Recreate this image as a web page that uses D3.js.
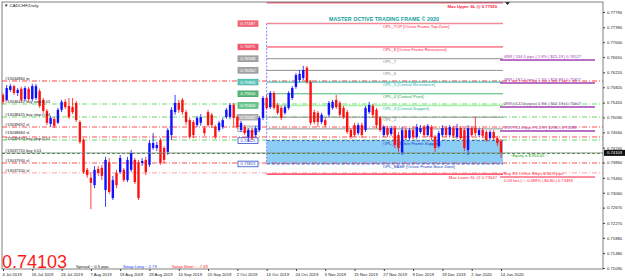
<!DOCTYPE html>
<html><head><meta charset="utf-8">
<script src="https://cdn.jsdelivr.net/npm/d3@7"></script>
<style>
body{margin:0;background:#fff;overflow:hidden}
svg text{font-family:"Liberation Sans",Arial,sans-serif}
</style></head>
<body><svg id="c" width="625" height="280"></svg>
<script>
// ---------- DATA ----------
const symbolTitle = "CADCHF,Daily";
const dates = ["2019-07-04","2019-07-05","2019-07-08","2019-07-09","2019-07-10","2019-07-11","2019-07-12","2019-07-15","2019-07-16","2019-07-17","2019-07-18","2019-07-19","2019-07-22","2019-07-23","2019-07-24","2019-07-25","2019-07-26","2019-07-29","2019-07-30","2019-07-31",
"2019-08-01","2019-08-02","2019-08-05","2019-08-06","2019-08-07","2019-08-08","2019-08-09","2019-08-12","2019-08-13","2019-08-14","2019-08-15","2019-08-16","2019-08-19","2019-08-20","2019-08-21","2019-08-22","2019-08-23","2019-08-26","2019-08-27","2019-08-28","2019-08-29","2019-08-30",
"2019-09-02","2019-09-03","2019-09-04","2019-09-05","2019-09-06","2019-09-09","2019-09-10","2019-09-11","2019-09-12","2019-09-13","2019-09-16","2019-09-17","2019-09-18","2019-09-19","2019-09-20","2019-09-23","2019-09-24","2019-09-25","2019-09-26","2019-09-27","2019-09-30",
"2019-10-01","2019-10-02","2019-10-03","2019-10-04","2019-10-07","2019-10-08","2019-10-09","2019-10-10","2019-10-11","2019-10-14","2019-10-15","2019-10-16","2019-10-17","2019-10-18","2019-10-21","2019-10-22","2019-10-23","2019-10-24","2019-10-25","2019-10-28","2019-10-29","2019-10-30","2019-10-31",
"2019-11-01","2019-11-04","2019-11-05","2019-11-06","2019-11-07","2019-11-08","2019-11-11","2019-11-12","2019-11-13","2019-11-14","2019-11-15","2019-11-18","2019-11-19","2019-11-20","2019-11-21","2019-11-22","2019-11-25","2019-11-26","2019-11-27","2019-11-28","2019-11-29",
"2019-12-02","2019-12-03","2019-12-04","2019-12-05","2019-12-06","2019-12-09","2019-12-10","2019-12-11","2019-12-12","2019-12-13","2019-12-16","2019-12-17","2019-12-18","2019-12-19","2019-12-20","2019-12-23","2019-12-24","2019-12-26","2019-12-27","2019-12-30","2019-12-31",
"2020-01-02","2020-01-03","2020-01-06","2020-01-07","2020-01-08","2020-01-09","2020-01-10","2020-01-13","2020-01-14"];

const open = [.7562,.7549,.7575,.7585,.7567,.7578,.7551,.7578,.7551,.7554,.7572,.7549,.7520,.7486,.7499,.7489,.7523,.7544,.7533,.7530,
.7541,.7491,.7444,.7366,.7345,.7326,.7368,.7371,.7313,.7386,.7292,.7358,.7360,.7366,.7339,.7366,.7392,.7386,.7384,.7392,.7379,.7423,
.7423,.7444,.7423,.7413,.7457,.7517,.7541,.7549,.7517,.7496,.7491,.7483,.7489,.7475,.7517,.7510,.7478,.7470,.7478,.7504,.7504,
.7536,.7504,.7470,.7478,.7452,.7470,.7457,.7470,.7502,.7554,.7530,.7567,.7536,.7528,.7515,.7528,.7554,.7583,.7601,.7606,.7633,.7596,.7517,
.7515,.7491,.7496,.7510,.7528,.7549,.7541,.7528,.7517,.7470,.7483,.7462,.7483,.7470,.7517,.7533,.7523,.7502,.7457,.7475,.7460,
.7475,.7457,.7410,.7470,.7449,.7470,.7452,.7465,.7478,.7457,.7478,.7452,.7428,.7457,.7475,.7457,.7475,.7452,.7475,.7470,.7418,
.7475,.7475,.7457,.7470,.7465,.7449,.7465,.7449,.7441];
const high = [.7567,.7588,.7591,.7588,.7580,.7583,.7585,.7583,.7591,.7591,.7578,.7554,.7525,.7507,.7504,.7528,.7549,.7551,.7554,.7554,
.7546,.7496,.7449,.7371,.7360,.7376,.7376,.7379,.7400,.7397,.7350,.7366,.7405,.7371,.7400,.7418,.7397,.7392,.7397,.7400,.7444,.7462,
.7439,.7449,.7428,.7475,.7530,.7562,.7549,.7554,.7523,.7502,.7496,.7507,.7512,.7481,.7523,.7515,.7483,.7494,.7502,.7528,.7541,
.7541,.7510,.7494,.7483,.7475,.7475,.7481,.7507,.7559,.7562,.7572,.7572,.7541,.7533,.7536,.7572,.7585,.7619,.7627,.7638,.7638,.7601,.7523,
.7520,.7515,.7502,.7546,.7549,.7562,.7546,.7533,.7523,.7475,.7489,.7489,.7489,.7533,.7544,.7538,.7528,.7507,.7483,.7481,.7481,
.7481,.7465,.7478,.7475,.7475,.7478,.7486,.7483,.7483,.7486,.7483,.7457,.7468,.7483,.7481,.7483,.7481,.7486,.7481,.7475,.7483,
.7481,.7504,.7475,.7475,.7470,.7470,.7470,.7455,.7447];
const low = [.7538,.7546,.7570,.7562,.7559,.7544,.7546,.7546,.7546,.7549,.7528,.7515,.7483,.7478,.7475,.7486,.7517,.7525,.7499,.7512,
.7491,.7434,.7355,.7345,.7263,.7318,.7350,.7339,.7269,.7303,.7287,.7318,.7355,.7334,.7334,.7360,.7329,.7287,.7376,.7352,.7373,.7418,
.7415,.7379,.7384,.7405,.7444,.7510,.7515,.7510,.7483,.7447,.7449,.7478,.7481,.7455,.7478,.7475,.7447,.7465,.7473,.7499,.7499,
.7478,.7473,.7465,.7457,.7439,.7444,.7452,.7465,.7496,.7523,.7525,.7523,.7510,.7496,.7510,.7523,.7549,.7578,.7596,.7601,.7591,.7483,.7486,
.7478,.7486,.7478,.7504,.7523,.7525,.7504,.7499,.7460,.7447,.7452,.7457,.7449,.7465,.7512,.7502,.7475,.7465,.7452,.7452,.7455,
.7423,.7413,.7405,.7444,.7444,.7447,.7447,.7460,.7452,.7452,.7444,.7413,.7423,.7452,.7452,.7452,.7449,.7447,.7444,.7415,.7405,
.7452,.7455,.7452,.7449,.7439,.7444,.7444,.7428,.7397];
const close = [.7544,.7580,.7585,.7567,.7575,.7549,.7580,.7551,.7585,.7585,.7533,.7520,.7489,.7502,.7481,.7523,.7544,.7530,.7504,.7517,
.7496,.7439,.7360,.7352,.7332,.7366,.7358,.7350,.7392,.7308,.7339,.7326,.7397,.7339,.7392,.7410,.7334,.7292,.7389,.7360,.7436,.7436,
.7431,.7384,.7392,.7470,.7523,.7541,.7523,.7517,.7491,.7452,.7457,.7502,.7504,.7462,.7483,.7483,.7452,.7489,.7496,.7523,.7536,
.7502,.7478,.7489,.7462,.7470,.7449,.7475,.7502,.7554,.7528,.7567,.7528,.7515,.7502,.7530,.7567,.7580,.7614,.7617,.7627,.7596,.7489,.7491,
.7491,.7510,.7483,.7541,.7544,.7530,.7510,.7504,.7465,.7452,.7457,.7483,.7457,.7528,.7536,.7510,.7483,.7470,.7478,.7457,.7475,
.7431,.7423,.7470,.7449,.7470,.7452,.7478,.7475,.7457,.7481,.7452,.7423,.7462,.7475,.7457,.7478,.7455,.7475,.7449,.7423,.7475,
.7457,.7462,.7470,.7455,.7444,.7465,.7449,.7436,.74103];

const yTickValues = [0.77790,0.77390,0.77000,0.76610,0.76210,0.75820,0.75420,0.75030,0.74640,0.74240,0.73850,0.73450,0.73060,0.72670,0.72270,0.71880,0.71480,0.71090];
const xTickDates = ["2019-07-04","2019-07-16","2019-07-26","2019-08-07","2019-08-19","2019-08-29","2019-09-10","2019-09-20","2019-10-02","2019-10-14","2019-10-24","2019-11-05","2019-11-15","2019-11-27","2019-12-09","2019-12-19","2020-01-02","2020-01-14"];
const xTickLabels = ["4 Jul 2019","16 Jul 2019","26 Jul 2019","7 Aug 2019","19 Aug 2019","29 Aug 2019","10 Sep 2019","20 Sep 2019","2 Oct 2019","14 Oct 2019","24 Oct 2019","5 Nov 2019","15 Nov 2019","27 Nov 2019","9 Dec 2019","19 Dec 2019","2 Jan 2020","14 Jan 2020"];

const bidPrice = 0.74103;
const frameStart = "2019-10-14";
const frameEnd = "2020-01-14";
const frameTitle = "MASTER OCTIVE TRADING FRAME © 2020";
const oplNames = ["OPL_TOP [Octive Frame Top Zone]","OPL_8 [Octive Frame Resistance]","OPL_7","OPL_6","OPL_5 [Central Resistance]","OPL_4 [Central Pivot]","OPL_3 [Central Support]","OPL_2","OPL_1","OPL_0 [Octive Frame Support]","OPL_BASE [Octive Frame Base Zone]"];
const oplValues = [0.77487,0.76875,0.76568,0.76262,0.75956,0.75650,0.75344,0.75037,0.74731,0.74425,0.73813];
const maxUpperSL = 0.78040, maxUpperText = "Max Upper SL @ 0.77920";
const maxLowerSL = 0.73547, maxLowerText = "Max Lower SL @ 0.73547";

const orderLabels = ["#13034860 tp","#13036422 buy stop 0.05","#13038425 buy stop 0.04","#13039692 sl","#13038684 sl","#13039693 buy stop 0.02","#13037720 buy 0.01","#13037930 sl","#13037200 sl"];
const orderPrices = [0.75984,0.75382,0.75042,0.74780,0.74519,0.74440,0.74087,0.73838,0.73577];
const orderKinds  = ["tp","pend","pend","sl","sl","pend","buy","sl","slpale"];

const rrLabels = ["4RR | 244.0 pips | 1.8% | $25.19 | 0.76527","3RR | 182.0 pips | 1.3% | $18.89 | 0.75857","2RR | 122.0 pips | 0.9% | $12.59 | 0.75407","1RR | 61.0 pips | 0.4% | $6.36 | 0.74986"];
const rrPrices = [0.76534,0.75932,0.75304,0.74676];
const buyStepsText = "Buy 3.0 Octive Steps = 84.0 pips";
const lotsText = "0.03 lots | \u2191: 0.489% | $6.80 | 0.73493";
const lotsLinePrice = 0.73472;
const equityText = "~Equity = $ 954.65 ~";
const spreadText = "Spread :: 0.5 pips", swapLongText = "Swap Long :: 2.79", swapShortText = "Swap Short :: -7.69";

// ---------- DRAW ----------
const svg = d3.select("#c");
const L = 2, R = 603, T = 2, B = 269;
const x = d3.scalePoint().domain(dates).range([3, 501]);
const y = d3.scaleLinear().domain([0.71090, 0.77790]).range([268, 12]);

svg.append("rect").attr("width",625).attr("height",280).attr("fill","#ffffff");
svg.append("defs").append("clipPath").attr("id","pc").append("rect")
  .attr("x",L).attr("y",T).attr("width",R-L).attr("height",B-T);
const g = svg.append("g").attr("clip-path","url(#pc)");

const xs = x(frameStart), xe = x(frameEnd) + 2;

// zone between OPL_0 and OPL_BASE
g.append("rect").attr("x",xs).attr("width",xe-xs)
  .attr("y",y(oplValues[9])).attr("height",y(oplValues[10])-y(oplValues[9]))
  .attr("fill","#8ccdf5");

// order lines (full width)
const orderStyle = {tp:["#ff2a2a","5,2,1,2",0.9], pend:["#5ad35a","5,2,1,2",0.9], sl:["#ff3a3a","5,2,1,2",0.9], buy:["#1e8c1e","3,2",0.9], slpale:["#ffb4b4","5,2,1,2",1.2]};
orderPrices.forEach((p,i)=>{
  const s = orderStyle[orderKinds[i]];
  g.append("line").attr("x1",L).attr("x2",R).attr("y1",y(p)).attr("y2",y(p))
    .attr("stroke",s[0]).attr("stroke-width",s[2]).attr("stroke-dasharray",s[1]);
});
g.append("line").attr("x1",L).attr("x2",R).attr("y1",y(orderPrices[1])).attr("y2",y(orderPrices[1]))
  .attr("stroke","#b4f0b4").attr("stroke-width",1.6).attr("stroke-dasharray","5,2,1,2");

// OPL frame lines
const oplStroke = ["#f08a96","#ff3050","#909090","#909090","#20b0a0","#48b870","#a8f0a8","#909090","#909090","#3048c8","#3048c8"];
const oplWidth = [1.5,1,1,1,1,1,1.6,1,1,0.9,0.9];
const oplDash = [null,null,null,null,null,null,null,null,null,"3,2","3,2"];
const oplTextColor = ["#ff2040","#ff2040","#808080","#808080","#20b0b0","#30a050","#20b0a0","#808080","#808080","#2040c0","#2040c0"];
const boxFill = ["#f06878","#f05068","#a8a8a8","#a8a8a8","#60c8b8","#58b878","#70c890","#b8b8b8","#ffffff","#ffffff","#ffffff"];
const boxStroke = ["#f06878","#f05068","#909090","#909090","#40b0a0","#40a060","#40b070","#a0a0a0","#909090","#3048c8","#3048c8"];
const boxText = ["#fff","#fff","#fff","#fff","#fff","#fff","#fff","#fff","#808080","#3048c8","#3048c8"];
oplValues.forEach((v,i)=>{
  const yy = y(v);
  g.append("line").attr("x1",xs).attr("x2",xe).attr("y1",yy).attr("y2",yy)
    .attr("stroke",oplStroke[i]).attr("stroke-width",oplWidth[i]).attr("stroke-dasharray",oplDash[i]);
  g.append("text").attr("x",383).attr("y",yy+4.2).attr("font-size",4.2).attr("fill",oplTextColor[i]).text(oplNames[i]);
  g.append("rect").attr("x",238).attr("y",yy-2.8).attr("width",20).attr("height",5.6)
    .attr("fill",boxFill[i]).attr("stroke",boxStroke[i]).attr("stroke-width",0.8);
  g.append("text").attr("x",248).attr("y",yy+1.5).attr("text-anchor","middle").attr("font-size",4.1)
    .attr("fill",boxText[i]).text(d3.format(".5f")(v));
});
g.append("line").attr("x1",xs).attr("x2",xs).attr("y1",y(oplValues[0])).attr("y2",y(oplValues[10]))
  .attr("stroke","#8080ff").attr("stroke-width",1).attr("stroke-dasharray","2,1.5");

// max SL lines
g.append("line").attr("x1",xs).attr("x2",xe).attr("y1",y(maxUpperSL)).attr("y2",y(maxUpperSL)).attr("stroke","#f07080").attr("stroke-width",2);
g.append("text").attr("x",497).attr("y",y(maxUpperSL)+6).attr("text-anchor","end").attr("font-size",4.2).attr("font-weight","bold").attr("fill","#ff2040").text(maxUpperText);
g.append("line").attr("x1",xs).attr("x2",xe).attr("y1",y(maxLowerSL)).attr("y2",y(maxLowerSL)).attr("stroke","#ff2040").attr("stroke-width",1.4);
g.append("text").attr("x",497).attr("y",y(maxLowerSL)+5).attr("text-anchor","end").attr("font-size",4.2).attr("fill","#ff2040").text(maxLowerText);

// title
g.append("text").attr("x",384).attr("y",21).attr("text-anchor","middle").attr("font-size",5.4).attr("font-weight","bold")
  .attr("fill","#20a0a0").text(frameTitle);

// candles
const bodyW = 2.4;
const cg = g.append("g");
dates.forEach((d,i)=>{
  const up = close[i] >= open[i];
  const col = up ? "#1010ff" : "#ff1010";
  const cx = x(d);
  cg.append("line").attr("x1",cx).attr("x2",cx).attr("y1",y(high[i])).attr("y2",y(low[i])).attr("stroke",col).attr("stroke-width",0.8);
  const y0 = y(Math.max(open[i],close[i])), y1 = y(Math.min(open[i],close[i]));
  cg.append("rect").attr("x",cx-bodyW/2).attr("y",y0).attr("width",bodyW).attr("height",Math.max(0.8,y1-y0)).attr("fill",col);
});

// bid line
g.append("line").attr("x1",L).attr("x2",R).attr("y1",y(bidPrice)).attr("y2",y(bidPrice)).attr("stroke","#8a8a8a").attr("stroke-width",0.8);

// order labels left
const labelShift = [0,0,0,0,-1.6,1.6,0,0,0];
orderPrices.forEach((p,i)=>{
  g.append("text").attr("x",5).attr("y",y(p)-1.2+labelShift[i]).attr("font-size",4).attr("fill","#202020").text(orderLabels[i]);
});

// RR labels right
rrPrices.forEach((p,i)=>{
  g.append("line").attr("x1",500).attr("x2",595).attr("y1",y(p)).attr("y2",y(p)).attr("stroke","#a040b0").attr("stroke-width",1.3);
  g.append("text").attr("x",504).attr("y",y(p)-1.5).attr("font-size",4.1).attr("fill","#a040b0").text(rrLabels[i]);
});
g.append("text").attr("x",510).attr("y",y(bidPrice)+4.5).attr("font-size",4.1).attr("fill","#20a020").text(equityText);
g.append("line").attr("x1",500).attr("x2",595).attr("y1",y(lotsLinePrice)).attr("y2",y(lotsLinePrice)).attr("stroke","#ff2040").attr("stroke-width",1.2);
g.append("text").attr("x",504).attr("y",y(lotsLinePrice)-2).attr("font-size",4.1).attr("fill","#ff2040").text(buyStepsText);
g.append("text").attr("x",504).attr("y",y(lotsLinePrice)+5).attr("font-size",4.1).attr("fill","#ff2040").text(lotsText);

// chart title top-left
svg.append("text").attr("x",4).attr("y",7).attr("font-size",4.4).attr("fill","#202020").text("\u25BC " + symbolTitle);
svg.append("path").attr("d","M505,2 L510,2 L507.5,5 Z").attr("fill","#202020");

// big price and info
svg.append("text").attr("x",2).attr("y",268).attr("font-size",18).attr("fill","#ff1a1a").text(d3.format(".5f")(bidPrice));
svg.append("text").attr("x",76).attr("y",268).attr("font-size",4.2).attr("fill","#202020").text(spreadText);
svg.append("text").attr("x",123).attr("y",268).attr("font-size",4.2).attr("fill","#2040ff").text(swapLongText);
svg.append("text").attr("x",172).attr("y",268).attr("font-size",4.2).attr("fill","#ff2020").text(swapShortText);

// frame
svg.append("rect").attr("x",L).attr("y",T).attr("width",R-L).attr("height",B-T).attr("fill","none").attr("stroke","#606060").attr("stroke-width",0.8);

// axes
const ya = svg.append("g").attr("transform",`translate(${R},0)`)
  .call(d3.axisRight(y).tickValues(yTickValues).tickFormat(d3.format(".5f")).tickSize(2).tickSizeOuter(0));
ya.select(".domain").remove();
ya.selectAll("text").attr("font-size",4.2).attr("fill","#202020").attr("x",4).attr("font-family","Liberation Sans, Arial");
ya.selectAll("line").attr("stroke","#404040");

const xa = svg.append("g").attr("transform",`translate(0,${B})`)
  .call(d3.axisBottom(x).tickValues(xTickDates).tickFormat((d,i)=>xTickLabels[i]).tickSize(2).tickSizeOuter(0));
xa.select(".domain").remove();
xa.selectAll("text").attr("font-size",4.2).attr("fill","#202020").attr("text-anchor","start").attr("dx",-1).attr("y",4).attr("font-family","Liberation Sans, Arial");
xa.selectAll("line").attr("stroke","#404040");

// current price box on axis
svg.append("rect").attr("x",R+1).attr("y",y(bidPrice)-3).attr("width",21).attr("height",6).attr("fill","#101010");
svg.append("text").attr("x",R+4).attr("y",y(bidPrice)+1.5).attr("font-size",4.2).attr("fill","#fff").text(d3.format(".5f")(bidPrice));
</script></body></html>
